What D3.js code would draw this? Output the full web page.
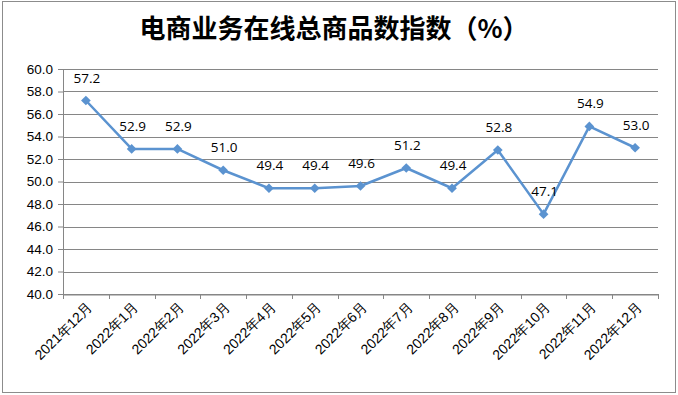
<!DOCTYPE html>
<html>
<head>
<meta charset="utf-8">
<script src="https://cdn.jsdelivr.net/npm/d3@7"></script>
<style>
  body { margin: 0; background: #fff; }
  svg { display: block; font-family: "Open Sans", "Noto Sans CJK SC", sans-serif; }
</style>
</head>
<body>
<div id="chart"></div>
<script>
// chart data
var months = ['2021年12月', '2022年1月', '2022年2月', '2022年3月', '2022年4月', '2022年5月',
  '2022年6月', '2022年7月', '2022年8月', '2022年9月', '2022年10月', '2022年11月', '2022年12月'];
var values = [57.2, 52.9, 52.9, 51.0, 49.4, 49.4, 49.6, 51.2, 49.4, 52.8, 47.1, 54.9, 53.0];
var yTicks = [40, 42, 44, 46, 48, 50, 52, 54, 56, 58, 60];
var title = '电商业务在线总商品数指数（%）';

var W = 678, H = 395;
var margin = {top: 69, right: 20, bottom: 101, left: 63};
var width = 658 - margin.left, height = 294 - margin.top;

var svg = d3.select('#chart').append('svg')
  .attr('width', W).attr('height', H);

// outer frame
svg.append('rect')
  .attr('x', 2.5).attr('y', 1.5)
  .attr('width', W - 5).attr('height', H - 4)
  .attr('fill', 'none').attr('stroke', '#8c8c8c').attr('stroke-width', 1);

svg.append('text')
  .attr('x', 334).attr('y', 38)
  .attr('text-anchor', 'middle')
  .attr('font-family', '"Noto Sans CJK SC", sans-serif')
  .attr('font-size', 26).attr('font-weight', 'bold')
  .attr('fill', '#000')
  .text(title);

var g = svg.append('g')
  .attr('transform', 'translate(' + margin.left + ',' + margin.top + ')');

var x = d3.scaleBand().domain(months).range([0, width]);
var y = d3.scaleLinear().domain([40, 60]).range([height, 0]);

// gridlines
g.selectAll('.grid')
  .data(yTicks)
  .enter().append('line')
  .attr('x1', 0).attr('x2', width)
  .attr('y1', function(d) { return Math.round(y(d)) + 0.5; })
  .attr('y2', function(d) { return Math.round(y(d)) + 0.5; })
  .attr('stroke', '#868686').attr('stroke-width', 1);

// y axis
var yAxis = g.append('g')
  .call(d3.axisLeft(y).tickValues(yTicks).tickSize(5).tickFormat(d3.format('.1f')));
yAxis.select('.domain').attr('stroke', '#868686');
yAxis.selectAll('.tick line').attr('stroke', '#868686');
yAxis.selectAll('.tick text')
  .attr('font-size', 13.5).attr('fill', '#000').attr('x', -10);

// x axis, ticks on band edges
var xAxis = g.append('g')
  .attr('transform', 'translate(0,' + (Math.round(height) + 0.5) + ')')
  .call(d3.axisBottom(x).tickSize(0).tickSizeOuter(0));
xAxis.select('.domain').attr('stroke', '#868686');
xAxis.selectAll('.tick text')
  .attr('font-size', 14).attr('fill', '#000')
  .attr('text-anchor', 'end')
  .attr('transform', 'translate(4,10) rotate(-45)')
  .attr('dy', '0.35em').attr('y', 0).attr('x', 0);

var edges = months.map(function(m) { return x(m); }).concat([width]);
g.selectAll('.xtick')
  .data(edges)
  .enter().append('line')
  .attr('x1', function(d) { return Math.round(d) + 0.5; })
  .attr('x2', function(d) { return Math.round(d) + 0.5; })
  .attr('y1', height).attr('y2', height + 5)
  .attr('stroke', '#868686');

var cx = function(d, i) { return x(months[i]) + x.bandwidth() / 2; };

// line
var line = d3.line()
  .x(function(d, i) { return cx(d, i); })
  .y(function(d) { return y(d); });

g.append('path')
  .datum(values)
  .attr('fill', 'none')
  .attr('stroke', '#5B93D0')
  .attr('stroke-width', 2.5)
  .attr('stroke-linejoin', 'round')
  .attr('d', line);

// diamond markers
g.selectAll('.marker')
  .data(values)
  .enter().append('path')
  .attr('d', d3.symbol().type(d3.symbolDiamond2).size(60))
  .attr('transform', function(d, i) { return 'translate(' + cx(d, i) + ',' + y(d) + ')'; })
  .attr('fill', '#5B93D0');

// value labels
g.selectAll('.label')
  .data(values)
  .enter().append('text')
  .attr('x', function(d, i) { return cx(d, i) + 1; })
  .attr('y', function(d) { return y(d) - 18; })
  .attr('text-anchor', 'middle')
  .attr('font-size', 13.5).attr('fill', '#000')
  .text(function(d) { return d.toFixed(1); });
</script>
</body>
</html>
